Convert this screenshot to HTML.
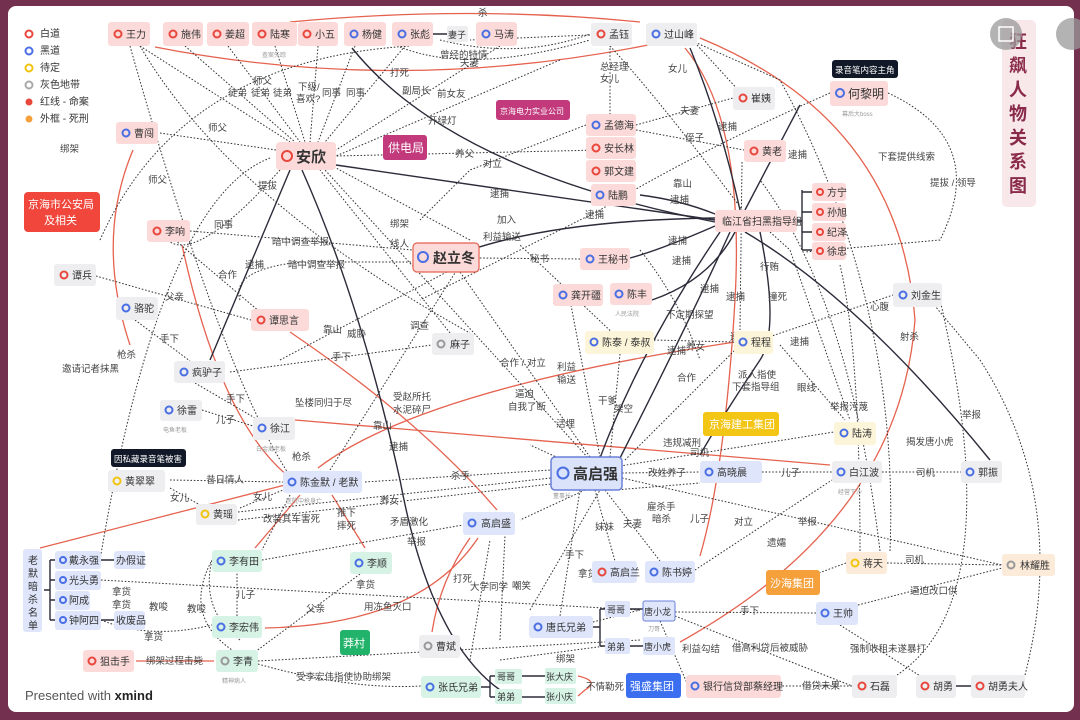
<!DOCTYPE html>
<html><head><meta charset="utf-8"><style>
html,body{margin:0;padding:0;background:#74304f;}
svg{display:block;font-family:"Liberation Sans","Noto Sans CJK SC",sans-serif;}
.t{font-size:10px;fill:#333;}
.s{font-size:6px;fill:#999;}
.l{font-size:9.5px;fill:#444;}
.d{fill:none;stroke:#333;stroke-width:1;stroke-dasharray:1.6 1.8;}
.k{fill:none;stroke:#2b2b3a;stroke-width:1.4;}
.r{fill:none;stroke:#e5624f;stroke-width:1.3;}
</style></head><body>
<svg width="1080" height="720" viewBox="0 0 1080 720">
<rect x="0" y="0" width="1080" height="720" fill="#74304f"/>
<rect x="8" y="6" width="1066" height="706" rx="8" fill="#fff"/>

<!-- legend -->
<g class="t">
<circle cx="29" cy="34" r="3.5" fill="none" stroke="#e8473d" stroke-width="2"/><text x="40" y="37">白道</text>
<circle cx="29" cy="51" r="3.5" fill="none" stroke="#4a6fe3" stroke-width="2"/><text x="40" y="54">黑道</text>
<circle cx="29" cy="68" r="3.5" fill="none" stroke="#f1c40f" stroke-width="2"/><text x="40" y="71">待定</text>
<circle cx="29" cy="85" r="3.5" fill="none" stroke="#aaa" stroke-width="2"/><text x="40" y="88">灰色地带</text>
<circle cx="29" cy="102" r="3.5" fill="#e8473d"/><text x="40" y="105">红线 - 命案</text>
<circle cx="29" cy="119" r="3.5" fill="#f5a03b"/><text x="40" y="122">外框 - 死刑</text>
</g>

<!-- red edges -->
<path class="r" d="M640 22 Q470 5 290 22"/>
<path class="r" d="M648 45 Q400 95 155 47"/>
<path class="r" d="M700 38 Q900 120 915 320 Q900 520 680 642"/>
<path class="r" d="M685 48 Q745 120 735 300 Q725 470 700 556"/>
<path class="r" d="M130 345 Q95 240 133 150"/>
<path class="r" d="M182 245 Q220 420 288 476"/>
<path class="r" d="M290 332 Q420 420 497 510"/>
<path class="r" d="M295 420 L830 465"/>
<path class="r" d="M285 485 L40 548"/>
<path class="r" d="M318 468 Q420 390 735 342"/>
<path class="r" d="M478 538 Q420 625 265 628"/>
<path class="r" d="M470 538 Q440 580 432 632"/>
<path class="r" d="M300 495 L255 548"/>
<path class="r" d="M332 495 L365 548"/>
<path class="r" d="M136 661 L214 661"/>
<path class="r" d="M578 676 Q600 681 585 690 L578 696"/>

<!-- solid dark edges -->
<path class="k" d="M290 170 L210 360"/>
<path class="k" d="M302 170 Q360 300 400 480 Q430 640 500 690"/>
<path class="k" d="M352 48 Q450 170 715 222"/>
<path class="k" d="M336 165 L715 220"/>
<path class="k" d="M715 218 Q560 220 470 250"/>
<path class="k" d="M715 226 Q660 250 630 258"/>
<path class="k" d="M715 214 Q680 200 640 195"/>
<path class="k" d="M745 210 L800 105"/>
<path class="k" d="M745 232 Q860 300 990 460"/>
<path class="k" d="M740 210 Q720 120 690 48"/>
<path class="k" d="M730 232 Q690 320 620 458"/>
<path class="k" d="M735 232 Q710 280 652 300"/>
<path class="k" d="M720 232 Q640 350 600 458"/>
<path class="k" d="M760 232 Q780 330 760 360 Q720 420 700 455"/>
<path class="k" d="M802 190 L802 250 M802 192 L812 192 M802 212 L812 212 M802 232 L812 232 M802 250 L812 250 M797 221 L802 221"/>
<path class="k" d="M44 590 L50 590 M50 560 L50 620 M50 560 L55 560 M50 580 L55 580 M50 600 L55 600 M50 620 L55 620"/>
<path class="k" d="M101 560 L114 560 M101 620 L114 620 M432 34 L447 34"/>
<path class="k" d="M593 627 L600 627 M600 609 L600 646 M600 609 L605 609 M600 646 L605 646 M630 609 L643 609 M630 646 L643 646"/>
<path class="k" d="M481 687 L490 687 M490 676 L490 697 M490 676 L495 676 M490 697 L495 697 M522 676 L545 676 M522 697 L545 697 M956 686 L971 686"/>

<!-- dotted edges -->
<g class="d">
<path d="M140 46 L290 142"/><path d="M185 46 L295 142"/><path d="M228 46 L300 142"/><path d="M275 46 L305 142"/>
<path d="M318 46 L310 142"/><path d="M355 46 L318 142"/><path d="M405 46 L325 142"/><path d="M500 46 L336 150"/>
<path d="M160 133 L276 150"/><path d="M100 240 Q180 60 410 46"/><path d="M560 60 L336 156"/>
<path d="M600 150 L336 156"/><path d="M470 240 L336 168"/><path d="M450 333 L320 170"/>
<path d="M590 460 L325 170"/><path d="M280 170 Q200 260 170 242"/><path d="M270 158 Q160 200 100 560"/>
<path d="M140 46 Q230 200 470 333"/><path d="M130 46 Q230 400 300 490"/>
<path d="M190 231 L413 250"/><path d="M240 300 Q230 270 300 262 L413 262"/><path d="M175 240 L260 312"/>
<path d="M96 276 L251 320"/><path d="M135 320 L190 361"/><path d="M195 383 L255 418"/><path d="M202 410 L253 426"/>
<path d="M230 372 L432 345"/><path d="M280 360 L479 255"/><path d="M330 470 L460 265"/>
<path d="M590 457 L460 272"/><path d="M600 457 L570 300"/><path d="M610 457 L620 354"/>
<path d="M625 460 L735 350"/><path d="M620 466 L834 432"/><path d="M622 473 L700 472"/>
<path d="M762 472 L832 472"/><path d="M882 472 L961 472"/><path d="M622 478 L1002 565"/>
<path d="M585 490 L520 520"/><path d="M595 490 L615 561"/><path d="M605 490 L660 561"/><path d="M615 490 L700 483"/>
<path d="M580 490 L560 616"/><path d="M620 486 L530 445"/><path d="M365 482 L551 470"/>
<path d="M238 512 L551 478"/><path d="M238 520 L551 484"/><path d="M170 480 L283 482"/><path d="M170 488 L200 505"/>
<path d="M240 508 L283 490"/><path d="M262 560 L463 525"/><path d="M290 495 L262 550"/>
<path d="M101 580 L640 610"/><path d="M101 620 Q150 640 212 625"/><path d="M237 616 L237 572"/>
<path d="M240 640 Q200 610 212 560"/><path d="M240 655 Q180 620 212 560"/><path d="M255 652 L360 574"/>
<path d="M258 661 L640 640"/><path d="M258 664 Q350 690 421 686"/><path d="M470 660 L490 540"/>
<path d="M500 640 L505 535"/><path d="M530 610 L600 490"/><path d="M593 622 L640 610"/>
<path d="M500 660 L605 646"/><path d="M660 621 L690 690"/><path d="M675 612 L816 613"/>
<path d="M675 616 L852 686"/><path d="M695 570 L832 480"/><path d="M846 563 L800 580"/>
<path d="M887 563 L1002 565"/><path d="M858 605 L1002 568"/><path d="M840 625 L936 686"/>
<path d="M852 686 L781 686"/><path d="M897 675 Q1010 600 940 300"/><path d="M1025 675 Q1070 500 980 360 L930 300"/>
<path d="M860 551 Q860 350 840 265"/><path d="M880 551 Q850 300 760 180"/><path d="M890 551 Q900 300 780 80 L690 40"/>
<path d="M888 93 Q990 140 940 240 L805 252"/><path d="M760 340 L893 295"/><path d="M780 345 L845 420"/>
<path d="M654 340 L734 342"/><path d="M620 340 L520 245"/><path d="M586 125 L470 170 L420 220"/>
<path d="M610 45 L610 114"/><path d="M590 35 L470 40"/><path d="M636 125 L733 98"/><path d="M636 130 L744 150"/>
<path d="M697 45 L740 92"/><path d="M830 93 Q700 150 600 210 L420 300"/><path d="M610 46 Q660 100 750 220"/>
<path d="M440 40 Q520 60 590 34"/><path d="M400 47 Q470 75 590 40"/><path d="M580 259 L479 258"/>
<path d="M770 232 L790 250 L850 420"/><path d="M742 162 L740 330"/><path d="M640 250 Q680 300 700 360"/>
</g>

<!-- edge labels -->
<g class="l">
<text x="478" y="16">杀</text><text x="440" y="58">曾经的特情</text><text x="460" y="66">夫妻</text>
<text x="390" y="76">打死</text><text x="402" y="94">副局长</text><text x="437" y="97">前女友</text><text x="428" y="124">开绿灯</text>
<text x="253" y="84">师父</text><text x="228" y="96">徒弟</text><text x="251" y="96">徒弟</text><text x="273" y="96">徒弟</text>
<text x="298" y="90">下级/</text><text x="296" y="102">喜欢?</text><text x="322" y="96">同事</text><text x="346" y="96">同事</text>
<text x="208" y="131">师父</text><text x="148" y="183">师父</text><text x="60" y="152">绑架</text>
<text x="258" y="189">提拔</text><text x="214" y="228">同事</text><text x="272" y="245">暗中调查举报</text><text x="288" y="268">暗中调查举报</text>
<text x="245" y="268">逮捕</text><text x="218" y="278">合作</text><text x="165" y="300">父亲</text><text x="160" y="342">手下</text>
<text x="390" y="227">绑架</text><text x="390" y="247">线人</text><text x="455" y="157">养父</text><text x="483" y="167">对立</text>
<text x="490" y="197">逮捕</text><text x="497" y="223">加入</text><text x="483" y="240">利益输送</text><text x="530" y="262">秘书</text>
<text x="323" y="333">靠山</text><text x="347" y="337">威胁</text><text x="332" y="360">手下</text><text x="410" y="329">调查</text>
<text x="62" y="372">邀请记者抹黑</text><text x="117" y="358">枪杀</text><text x="226" y="402">手下</text><text x="216" y="423">儿子</text>
<text x="295" y="406">坠楼同归于尽</text><text x="393" y="400">受赵所托</text><text x="393" y="413">水泥碎尸</text>
<text x="373" y="429">靠山</text><text x="389" y="450">逮捕</text><text x="292" y="460">枪杀</text>
<text x="500" y="366">合作 / 对立</text><text x="557" y="370">利益</text><text x="557" y="383">输送</text>
<text x="515" y="397">逼迫</text><text x="508" y="410">自我了断</text><text x="556" y="427">活埋</text><text x="598" y="404">干爹</text><text x="614" y="412">架空</text>
<text x="206" y="483">昔日情人</text><text x="170" y="501">女儿</text><text x="253" y="500">女儿</text><text x="451" y="479">杀手</text><text x="380" y="504">养女</text>
<text x="263" y="522">改装其车害死</text><text x="337" y="516">推下</text><text x="337" y="529">摔死</text><text x="390" y="525">矛盾激化</text><text x="407" y="545">举报</text>
<text x="112" y="595">拿货</text><text x="112" y="608">拿货</text><text x="149" y="610">教唆</text><text x="187" y="612">教唆</text><text x="144" y="640">拿货</text>
<text x="236" y="598">儿子</text><text x="306" y="612">父亲</text><text x="364" y="610">用冻鱼灭口</text><text x="356" y="588">拿货</text>
<text x="146" y="664">绑架过程击毙</text><text x="296" y="680">受李宏伟指使协助绑架</text>
<text x="453" y="582">打死</text><text x="470" y="590">大学同学</text><text x="512" y="589">嘲笑</text>
<text x="565" y="558">手下</text><text x="578" y="577">拿货</text><text x="556" y="662">绑架</text><text x="586" y="690">不情勒死</text>
<text x="595" y="530">妹妹</text><text x="623" y="527">夫妻</text><text x="647" y="510">雇杀手</text><text x="652" y="522">暗杀</text><text x="690" y="522">儿子</text>
<text x="734" y="525">对立</text><text x="767" y="546">遗孀</text><text x="798" y="525">举报</text><text x="648" y="476">改姓养子</text><text x="663" y="446">违规减刑</text>
<text x="690" y="456">司机</text><text x="781" y="476">儿子</text><text x="916" y="476">司机</text><text x="677" y="381">合作</text>
<text x="738" y="378">派人指使</text><text x="732" y="390">下套指导组</text><text x="797" y="391">眼线</text><text x="830" y="410">举报污蔑</text>
<text x="906" y="445">揭发唐小虎</text><text x="962" y="418">举报</text><text x="905" y="563">司机</text><text x="910" y="594">逼迫改口供</text>
<text x="740" y="614">手下</text><text x="682" y="652">利益勾结</text><text x="732" y="651">借高利贷后被威胁</text><text x="850" y="652">强制收租未遂暴打</text>
<text x="802" y="689">借贷未果</text><text x="730" y="340">逮捕</text><text x="667" y="354">逮捕</text><text x="666" y="318">不定期探望</text>
<text x="686" y="350">养女</text><text x="726" y="300">逮捕</text><text x="760" y="270">行贿</text><text x="768" y="300">撞死</text>
<text x="790" y="345">逮捕</text><text x="900" y="340">射杀</text><text x="870" y="310">心腹</text>
<text x="668" y="72">女儿</text><text x="600" y="70">总经理</text><text x="600" y="82">女儿</text><text x="680" y="114">夫妻</text>
<text x="685" y="141">侄子</text><text x="673" y="187">靠山</text><text x="670" y="203">逮捕</text><text x="585" y="218">逮捕</text>
<text x="668" y="244">逮捕</text><text x="672" y="264">逮捕</text><text x="718" y="130">逮捕</text><text x="788" y="158">逮捕</text>
<text x="878" y="160">下套提供线索</text><text x="930" y="186">提拔 / 领导</text><text x="700" y="292">逮捕</text>
</g>

<!-- nodes -->
<g id="nodes">
<g fill="#fbdad9">
<rect x="108" y="22" width="42" height="24" rx="3"/><rect x="163" y="22" width="40" height="24" rx="3"/><rect x="207" y="22" width="42" height="24" rx="3"/>
<rect x="252" y="22" width="45" height="24" rx="3"/><rect x="298" y="22" width="40" height="24" rx="3"/><rect x="344" y="22" width="42" height="24" rx="3"/>
<rect x="392" y="22" width="41" height="24" rx="3"/><rect x="476" y="22" width="41" height="24" rx="3"/>
<rect x="830" y="81" width="58" height="25" rx="3"/><rect x="586" y="114" width="50" height="22" rx="3"/><rect x="586" y="137" width="50" height="22" rx="3"/>
<rect x="586" y="160" width="50" height="22" rx="3"/><rect x="591" y="184" width="45" height="22" rx="3"/><rect x="744" y="140" width="42" height="22" rx="3"/>
<rect x="715" y="210" width="82" height="22" rx="3"/><rect x="812" y="183" width="34" height="18" rx="3"/><rect x="812" y="203" width="34" height="18" rx="3"/>
<rect x="812" y="223" width="34" height="18" rx="3"/><rect x="812" y="242" width="34" height="18" rx="3"/>
<rect x="116" y="122" width="42" height="22" rx="3"/><rect x="276" y="142" width="60" height="28" rx="4"/><rect x="147" y="220" width="43" height="22" rx="3"/>
<rect x="251" y="309" width="58" height="22" rx="3"/><rect x="580" y="248" width="50" height="22" rx="3"/><rect x="553" y="284" width="50" height="22" rx="3"/>
<rect x="610" y="283" width="42" height="22" rx="3"/><rect x="83" y="650" width="51" height="22" rx="3"/><rect x="686" y="675" width="95" height="23" rx="3"/>
</g>
<rect x="413" y="243" width="66" height="29" rx="4" fill="#fbdad9" stroke="#e5624f" stroke-width="1.2"/>
<g fill="#eeeef0">
<rect x="447" y="26" width="21" height="16" rx="2"/><rect x="591" y="23" width="41" height="23" rx="3"/><rect x="646" y="23" width="51" height="23" rx="3"/>
<rect x="733" y="87" width="42" height="23" rx="3"/><rect x="54" y="264" width="42" height="22" rx="3"/><rect x="116" y="297" width="42" height="23" rx="3"/>
<rect x="893" y="283" width="49" height="24" rx="3"/><rect x="432" y="333" width="42" height="22" rx="3"/><rect x="174" y="361" width="51" height="22" rx="3"/>
<rect x="160" y="400" width="42" height="21" rx="3"/><rect x="253" y="417" width="42" height="23" rx="3"/><rect x="832" y="461" width="50" height="22" rx="3"/>
<rect x="961" y="461" width="41" height="22" rx="3"/><rect x="108" y="470" width="57" height="22" rx="3"/><rect x="196" y="504" width="41" height="21" rx="3"/>
<rect x="419" y="635" width="41" height="23" rx="3"/><rect x="852" y="675" width="45" height="23" rx="3"/><rect x="916" y="675" width="40" height="23" rx="3"/>
<rect x="971" y="675" width="54" height="23" rx="3"/>
</g>
<g fill="#fdf5d9"><rect x="585" y="331" width="69" height="23" rx="3"/><rect x="734" y="331" width="39" height="23" rx="3"/><rect x="834" y="422" width="42" height="23" rx="3"/></g>
<g fill="#fdebd9"><rect x="846" y="552" width="41" height="22" rx="3"/><rect x="1002" y="554" width="53" height="22" rx="3"/></g>
<g fill="#dfe6fb">
<rect x="700" y="461" width="62" height="22" rx="3"/><rect x="283" y="471" width="79" height="22" rx="3"/><rect x="463" y="512" width="52" height="23" rx="3"/>
<rect x="23" y="549" width="19" height="83" rx="3"/><rect x="55" y="551" width="46" height="18" rx="3"/><rect x="114" y="551" width="31" height="18" rx="3"/>
<rect x="55" y="571" width="46" height="19" rx="3"/><rect x="55" y="591" width="35" height="19" rx="3"/><rect x="55" y="611" width="46" height="19" rx="3"/>
<rect x="114" y="611" width="31" height="19" rx="3"/><rect x="592" y="561" width="45" height="22" rx="3"/><rect x="645" y="561" width="50" height="22" rx="3"/>
<rect x="529" y="616" width="64" height="22" rx="3"/><rect x="605" y="601" width="25" height="16" rx="2"/><rect x="605" y="638" width="25" height="16" rx="2"/>
<rect x="643" y="637" width="32" height="18" rx="2"/><rect x="816" y="602" width="42" height="23" rx="3"/>
</g>
<rect x="643" y="601" width="32" height="20" rx="2" fill="#dfe6fb" stroke="#6b80d9" stroke-width="1"/>
<rect x="551" y="457" width="71" height="33" rx="4" fill="#dbe3fb" stroke="#6b80d9" stroke-width="1.5"/>
<g fill="#d6f3e5">
<rect x="212" y="550" width="50" height="22" rx="3"/><rect x="350" y="552" width="42" height="22" rx="3"/><rect x="212" y="616" width="50" height="22" rx="3"/>
<rect x="216" y="650" width="42" height="22" rx="3"/><rect x="421" y="676" width="60" height="22" rx="3"/><rect x="495" y="669" width="27" height="15" rx="2"/>
<rect x="495" y="689" width="27" height="15" rx="2"/><rect x="545" y="668" width="31" height="16" rx="2"/><rect x="545" y="688" width="31" height="16" rx="2"/>
</g>
<rect x="496" y="100" width="74" height="20" rx="3" fill="#c23a7c"/><rect x="383" y="135" width="44" height="25" rx="3" fill="#c23a7c"/>
<rect x="24" y="192" width="76" height="40" rx="4" fill="#f0463c"/><rect x="703" y="412" width="76" height="24" rx="3" fill="#f3c515"/>
<rect x="340" y="630" width="30" height="25" rx="3" fill="#22b36b"/><rect x="766" y="570" width="54" height="25" rx="3" fill="#f5a03b"/>
<rect x="626" y="673" width="55" height="25" rx="3" fill="#3b6ff0"/>
<rect x="832" y="60" width="66" height="18" rx="3" fill="#111827"/><rect x="111" y="449" width="75" height="18" rx="3" fill="#111827"/>
<rect x="1002" y="20" width="34" height="187" rx="5" fill="#f8e8ea"/>
</g>

<!-- icons -->
<g fill="none" stroke-width="2">
<g stroke="#e8473d">
<circle cx="118" cy="34" r="3.5"/><circle cx="173" cy="34" r="3.5"/><circle cx="217" cy="34" r="3.5"/><circle cx="262" cy="34" r="3.5"/><circle cx="307" cy="34" r="3.5"/>
<circle cx="601" cy="34" r="3.5"/><circle cx="743" cy="98" r="3.5"/><circle cx="596" cy="148" r="3.5"/><circle cx="596" cy="171" r="3.5"/><circle cx="754" cy="151" r="3.5"/>
<circle cx="820" cy="192" r="3"/><circle cx="820" cy="212" r="3"/><circle cx="820" cy="232" r="3"/><circle cx="820" cy="251" r="3"/>
<circle cx="287" cy="156" r="5"/><circle cx="157" cy="231" r="3.5"/><circle cx="64" cy="275" r="3.5"/><circle cx="261" cy="320" r="3.5"/>
<circle cx="92" cy="661" r="3.5"/><circle cx="602" cy="572" r="3.5"/><circle cx="862" cy="686" r="3.5"/><circle cx="925" cy="686" r="3.5"/><circle cx="980" cy="686" r="3.5"/>
</g>
<g stroke="#4a6fe3">
<circle cx="354" cy="34" r="3.5"/><circle cx="402" cy="34" r="3.5"/><circle cx="486" cy="34" r="3.5"/><circle cx="656" cy="34" r="3.5"/><circle cx="840" cy="93" r="4"/>
<circle cx="596" cy="125" r="3.5"/><circle cx="600" cy="195" r="3.5"/><circle cx="126" cy="133" r="3.5"/><circle cx="423" cy="257" r="5"/><circle cx="126" cy="308" r="3.5"/>
<circle cx="590" cy="259" r="3.5"/><circle cx="563" cy="295" r="3.5"/><circle cx="619" cy="294" r="3.5"/><circle cx="903" cy="295" r="3.5"/><circle cx="594" cy="342" r="3.5"/>
<circle cx="743" cy="342" r="3.5"/><circle cx="184" cy="372" r="3.5"/><circle cx="169" cy="410" r="3.5"/><circle cx="262" cy="428" r="3.5"/><circle cx="844" cy="433" r="3.5"/>
<circle cx="563" cy="473" r="5.5"/><circle cx="709" cy="472" r="3.5"/><circle cx="841" cy="472" r="3.5"/><circle cx="970" cy="472" r="3.5"/><circle cx="292" cy="482" r="3.5"/>
<circle cx="472" cy="523" r="3.5"/><circle cx="63" cy="560" r="3"/><circle cx="63" cy="580" r="3"/><circle cx="63" cy="600" r="3"/><circle cx="63" cy="620" r="3"/>
<circle cx="221" cy="561" r="3.5"/><circle cx="359" cy="563" r="3.5"/><circle cx="221" cy="627" r="3.5"/><circle cx="654" cy="572" r="3.5"/><circle cx="538" cy="627" r="3.5"/>
<circle cx="825" cy="613" r="3.5"/><circle cx="430" cy="687" r="3.5"/><circle cx="695" cy="686" r="3.5"/>
</g>
<g stroke="#f1c40f"><circle cx="117" cy="481" r="3.5"/><circle cx="205" cy="514" r="3.5"/><circle cx="855" cy="563" r="3.5"/></g>
<g stroke="#999"><circle cx="441" cy="344" r="3.5"/><circle cx="428" cy="646" r="3.5"/><circle cx="225" cy="661" r="3.5"/><circle cx="1011" cy="565" r="3.5"/></g>
</g>

<!-- node texts -->
<g class="t">
<text x="126" y="38">王力</text><text x="181" y="38">施伟</text><text x="225" y="38">姜超</text><text x="270" y="38">陆寒</text><text x="315" y="38">小五</text>
<text x="362" y="38">杨健</text><text x="410" y="38">张彪</text><text x="448" y="38" style="font-size:9px">妻子</text><text x="494" y="38">马涛</text>
<text x="609" y="38">孟钰</text><text x="664" y="38">过山峰</text><text x="751" y="102">崔姨</text>
<text x="604" y="129">孟德海</text><text x="604" y="152">安长林</text><text x="604" y="175">郭文建</text><text x="608" y="199">陆鹏</text><text x="762" y="155">黄老</text>
<text x="722" y="225">临江省扫黑指导组</text>
<text x="827" y="196">方宁</text><text x="827" y="216">孙旭</text><text x="827" y="236">纪泽</text><text x="827" y="255">徐忠</text>
<text x="134" y="137">曹闯</text><text x="165" y="235">李响</text><text x="72" y="279">谭兵</text><text x="134" y="312">骆驼</text><text x="269" y="324">谭思言</text>
<text x="598" y="263">王秘书</text><text x="571" y="299">龚开疆</text><text x="627" y="298">陈丰</text><text x="911" y="299">刘金生</text><text x="450" y="348">麻子</text>
<text x="602" y="346">陈泰 / 泰叔</text><text x="751" y="346">程程</text><text x="192" y="376">疯驴子</text><text x="177" y="414">徐雷</text><text x="270" y="432">徐江</text>
<text x="852" y="437">陆涛</text><text x="717" y="476">高晓晨</text><text x="849" y="476">白江波</text><text x="978" y="476">郭振</text>
<text x="125" y="485">黄翠翠</text><text x="300" y="486">陈金默 / 老默</text><text x="213" y="518">黄瑶</text><text x="481" y="527">高启盛</text>
<text x="69" y="564">戴永强</text><text x="116" y="564">办假证</text><text x="69" y="584">光头勇</text><text x="69" y="604">阿成</text><text x="69" y="624">钟阿四</text><text x="116" y="624">收废品</text>
<text x="229" y="565">李有田</text><text x="367" y="567">李顺</text><text x="229" y="631">李宏伟</text><text x="233" y="665">李青</text><text x="100" y="665">狙击手</text>
<text x="436" y="650">曹斌</text><text x="438" y="691">张氏兄弟</text><text x="497" y="680" style="font-size:9px">哥哥</text><text x="497" y="700" style="font-size:9px">弟弟</text>
<text x="546" y="680" style="font-size:9px">张大庆</text><text x="546" y="700" style="font-size:9px">张小庆</text>
<text x="703" y="690">银行信贷部蔡经理</text><text x="870" y="690">石磊</text><text x="933" y="690">胡勇</text><text x="988" y="690">胡勇夫人</text>
<text x="610" y="576">高启兰</text><text x="662" y="576">陈书婷</text><text x="546" y="631">唐氏兄弟</text>
<text x="607" y="613" style="font-size:9px">哥哥</text><text x="607" y="650" style="font-size:9px">弟弟</text><text x="644" y="615" style="font-size:9px">唐小龙</text><text x="644" y="650" style="font-size:9px">唐小虎</text>
<text x="833" y="617">王帅</text><text x="863" y="567">蒋天</text><text x="1020" y="569">林耀胜</text>
<text x="848" y="98" style="font-size:12px">何黎明</text>
<text x="296" y="162" style="font-size:15px;font-weight:bold">安欣</text>
<text x="433" y="263" style="font-size:14px;font-weight:bold">赵立冬</text>
<text x="573" y="479" style="font-size:15px;font-weight:bold">高启强</text>
</g>
<g style="font-size:10px;fill:#fff">
<text x="500" y="114" style="font-size:8px">京海电力实业公司</text><text x="388" y="152" style="font-size:12px">供电局</text>
<text x="28" y="208" style="font-size:11px">京海市公安局</text><text x="44" y="224" style="font-size:11px">及相关</text>
<text x="709" y="428" style="font-size:11px">京海建工集团</text><text x="343" y="647" style="font-size:11px">莽村</text>
<text x="770" y="587" style="font-size:11px">沙海集团</text><text x="630" y="690" style="font-size:11px">强盛集团</text>
<text x="835" y="73" style="font-size:8.5px">录音笔内容主角</text><text x="114" y="462" style="font-size:8.5px">因私藏录音笔被害</text>
</g>
<g class="t" style="font-size:10px">
<text x="28" y="564">老</text><text x="28" y="577">默</text><text x="28" y="590">暗</text><text x="28" y="603">杀</text><text x="28" y="616">名</text><text x="28" y="629">单</text>
</g>
<g class="s">
<text x="262" y="57">查案失踪</text><text x="842" y="116">幕后大boss</text><text x="615" y="316">人民法院</text><text x="163" y="432">电鱼老板</text>
<text x="256" y="451">白金瀚老板</text><text x="838" y="494">经营下沙</text><text x="286" y="503">医院中枪身亡</text><text x="553" y="498">董事长</text>
<text x="648" y="631">刀哥</text><text x="222" y="683">精神病人</text>
</g>
<g style="font-size:18px;font-weight:bold;fill:#8a2a4a">
<text x="1009" y="48">狂</text><text x="1009" y="72">飙</text><text x="1009" y="96">人</text><text x="1009" y="120">物</text><text x="1009" y="144">关</text><text x="1009" y="168">系</text><text x="1009" y="192">图</text>
</g>
<circle cx="1006" cy="34" r="16" fill="#9a9a9a" opacity="0.75"/>
<rect x="999" y="27" width="14" height="14" fill="none" stroke="#fff" stroke-width="1.5"/>
<circle cx="1072" cy="34" r="16" fill="#9a9a9a" opacity="0.75"/>
<text x="25" y="700" style="font-size:13px;fill:#555">Presented with <tspan style="font-weight:bold;fill:#222">xmind</tspan></text>
</svg>
</body></html>
